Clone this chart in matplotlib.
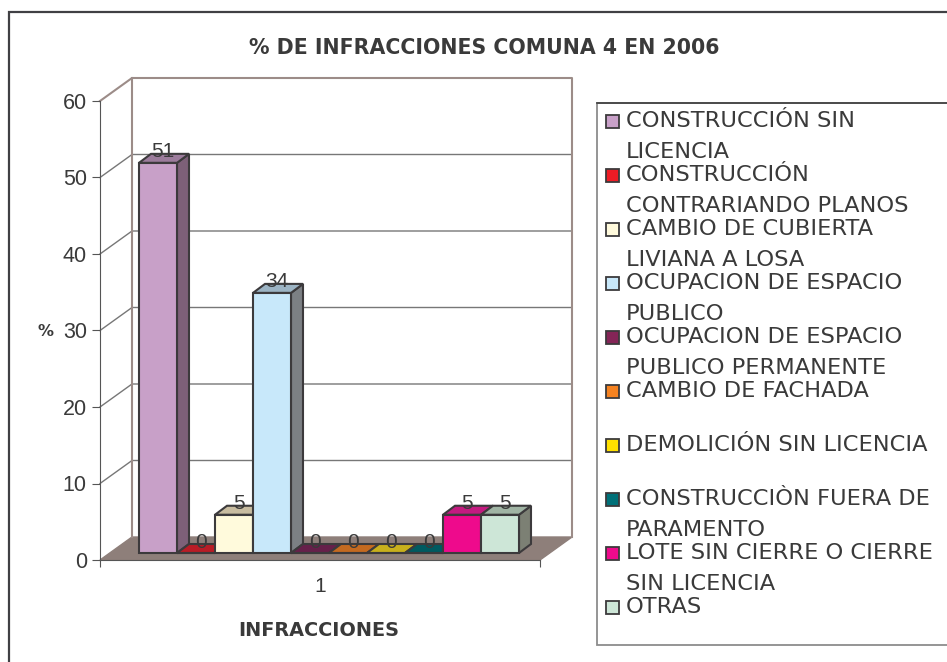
import matplotlib
matplotlib.use('Agg')
import matplotlib.pyplot as plt
from matplotlib.patches import Polygon, Rectangle

W, H = 947, 662

title = '% DE INFRACCIONES COMUNA 4 EN 2006'
category = '1'
y_ticks = [0, 10, 20, 30, 40, 50, 60]
names = ['CONSTRUCCIÓN SIN\nLICENCIA', 'CONSTRUCCIÓN\nCONTRARIANDO PLANOS',
         'CAMBIO DE CUBIERTA\nLIVIANA A LOSA', 'OCUPACION DE ESPACIO\nPUBLICO',
         'OCUPACION DE ESPACIO\nPUBLICO PERMANENTE', 'CAMBIO DE FACHADA',
         'DEMOLICIÓN SIN LICENCIA', 'CONSTRUCCIÒN FUERA DE\nPARAMENTO',
         'LOTE SIN CIERRE O CIERRE\nSIN LICENCIA', 'OTRAS']
values = [51, 0, 5, 34, 0, 0, 0, 0, 5, 5]
front_colors = ['#c8a0c8', '#ee1c25', '#fffadc', '#c8e8fa', '#842557',
                '#f58220', '#ffe100', '#007078', '#ee0a8c', '#cde6d7']
top_colors = ['#9c7c9c', '#b91c26', '#c8bca0', '#9cb4c4', '#66204a',
              '#c46a20', '#c8b01c', '#005a60', '#c41a80', '#a0b4a4']
side_colors = ['#7d6078', '#8c1820', '#9c9480', '#7c8084', '#4c1838',
               '#9c5418', '#9c8c14', '#00484c', '#9c1464', '#7c8074']

EDGE = '#3c3a3c'
TEXT = '#3a3a3a'
WALL = '#9c8c88'
FLOOR = '#8e7f7a'
ARIAL = ['Liberation Sans', 'DejaVu Sans']

plt.rcParams['font.family'] = ['DejaVu Sans']

fig = plt.figure(figsize=(W / 100, H / 100), dpi=100)
# outer chart frame, right and bottom sides fall outside the image
fig.add_artist(Rectangle((9 / W, 1 - 700 / H), 1000 / W, 688 / H, transform=fig.transFigure,
                         fill=False, ec='#404044', lw=1.6, clip_on=False))

ax = fig.add_axes([100 / W, 1 - 560 / H, 440 / W, 459 / H])
ax.set_xlim(0, 1)
ax.set_ylim(0, 60)
ax.patch.set_alpha(0)
for s in ['top', 'right']:
    ax.spines[s].set_visible(False)
for s in ['left', 'bottom']:
    ax.spines[s].set_color('#555555')

# depth of the box and of the bars, in data units
wall_dx, wall_dy = 32 / 440, 23 * 60 / 459
bar_x0, bar_w = 39 / 440, 38 / 440
bar_y0 = 7 * 60 / 459
depth_dx, depth_dy = 12 / 440, 9 * 60 / 459
label_dx, label_dy = 5 / 440, 11 * 60 / 459

# floor and back walls
ax.add_patch(Polygon([(0, 0), (1, 0), (1 + wall_dx, wall_dy), (wall_dx, wall_dy)],
                     fc=FLOOR, ec=FLOOR, lw=1, zorder=1, clip_on=False))
for t in y_ticks[1:-1]:
    ax.plot([0, wall_dx, 1 + wall_dx], [t, t + wall_dy, t + wall_dy],
            color='#777777', lw=1, zorder=1, clip_on=False)
ax.plot([0, wall_dx, 1 + wall_dx, 1 + wall_dx], [60, 60 + wall_dy, 60 + wall_dy, wall_dy],
        color=WALL, lw=1.5, zorder=1, clip_on=False)
ax.plot([wall_dx, wall_dx], [wall_dy, 60 + wall_dy], color=WALL, lw=1.5, zorder=1, clip_on=False)

# 3d bars: side and top polygons first, the front face from ax.bar
for i, v in enumerate(values):
    x0 = bar_x0 + i * bar_w
    x1 = x0 + bar_w
    y0 = bar_y0
    y1 = bar_y0 + v
    z = 3 + i
    ax.add_patch(Polygon([(x1, y0), (x1 + depth_dx, y0 + depth_dy),
                          (x1 + depth_dx, y1 + depth_dy), (x1, y1)],
                         fc=side_colors[i], ec=EDGE, lw=1.5, zorder=z, clip_on=False))
    ax.add_patch(Polygon([(x0, y1), (x1, y1), (x1 + depth_dx, y1 + depth_dy),
                          (x0 + depth_dx, y1 + depth_dy)],
                         fc=top_colors[i], ec=EDGE, lw=1.5, zorder=z, clip_on=False))
    ax.bar(x0, v, width=bar_w, bottom=y0, align='edge', color=front_colors[i],
           edgecolor=EDGE, linewidth=1.5, zorder=z, clip_on=False)
    ax.text(x0 + bar_w / 2 + label_dx, y1 + label_dy, str(v), ha='center', va='center',
            fontsize=15, family=ARIAL, color=TEXT, zorder=20, clip_on=False)

ax.set_yticks(y_ticks)
ax.tick_params(axis='y', labelsize=15.5, labelcolor=TEXT, color='#555555', length=6, pad=3.5)
for lab in ax.get_yticklabels():
    lab.set_family(ARIAL)
ax.set_xticks([0, 1])
ax.set_xticklabels([])
ax.tick_params(axis='x', color='#555555', length=5)
ax.text(0.5, -26 / 459 * 60, category, ha='center', va='center', fontsize=15,
        family=ARIAL, color=TEXT, clip_on=False)

fig.text(484 / W, 1 - 48 / H, title, ha='center', va='center', fontsize=14.8,
         weight='bold', color=TEXT)
fig.text(45 / W, 1 - 331 / H, '%', ha='center', va='center', fontsize=11.5, weight='bold', color=TEXT)
fig.text(319 / W, 1 - 630 / H, 'INFRACCIONES', ha='center', va='center', fontsize=13.9,
         weight='bold', color=TEXT)

# legend box, runs off the right edge
fig.add_artist(Rectangle((597 / W, 1 - 645 / H), 400 / W, 542 / H, transform=fig.transFigure,
                         fc='white', ec='#8c8c8c', lw=1.3, clip_on=False))
fig.add_artist(plt.Line2D([597 / W, 1], [1 - 103 / H, 1 - 103 / H], color='#404040', lw=1.2))
swatch_y = [121, 175, 229, 283, 337, 391, 445, 499, 553, 607]
line_gap = 31
for name, color, sy in zip(names, front_colors, swatch_y):
    fig.add_artist(Rectangle((606 / W, 1 - (sy + 6.5) / H), 13 / W, 13 / H,
                             transform=fig.transFigure, fc=color, ec=EDGE, lw=1.3))
    for k, part in enumerate(name.split('\n')):
        fig.text(626 / W, 1 - (sy + k * line_gap) / H, part, ha='left', va='center',
                 fontsize=16.2, color=TEXT)

fig.savefig('out.png', dpi=100)
